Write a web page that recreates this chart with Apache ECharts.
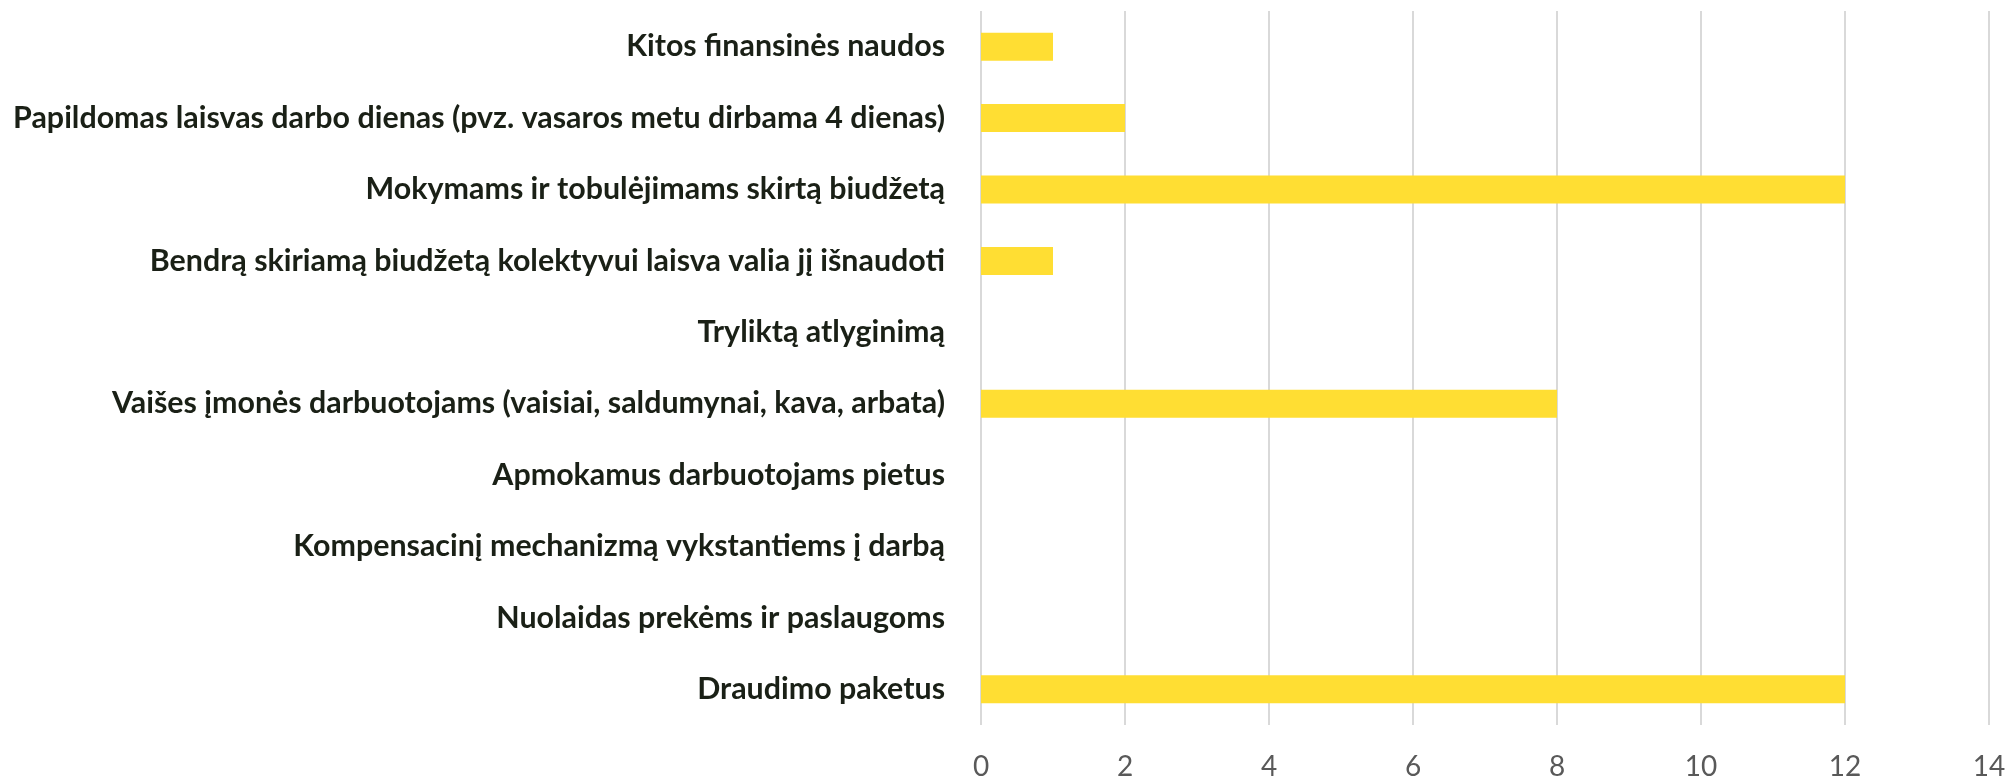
<!DOCTYPE html>
<html>
<head>
<meta charset="utf-8">
<script src="https://cdn.jsdelivr.net/npm/echarts@6/dist/echarts.min.js"></script>
<style>
  html, body { margin: 0; padding: 0; background: #fff; }
  #chart { width: 2010px; height: 779px; }
</style>
</head>
<body>
<div id="chart"></div>
<script>
// kategorijos iš viršaus į apačią
const categories = [
  'Kitos finansinės naudos',
  'Papildomas laisvas darbo dienas (pvz. vasaros metu dirbama 4 dienas)',
  'Mokymams ir tobulėjimams skirtą biudžetą',
  'Bendrą skiriamą biudžetą kolektyvui laisva valia jį išnaudoti',
  'Tryliktą atlyginimą',
  'Vaišes įmonės darbuotojams (vaisiai, saldumynai, kava, arbata)',
  'Apmokamus darbuotojams pietus',
  'Kompensacinį mechanizmą vykstantiems į darbą',
  'Nuolaidas prekėms ir paslaugoms',
  'Draudimo paketus'
];
const values = [1, 2, 12, 1, 0, 8, 0, 0, 0, 12];
const xTicks = [0, 2, 4, 6, 8, 10, 12, 14];

const chart = echarts.init(document.getElementById('chart'));

chart.setOption({
  animation: false,
  grid: { left: 981, right: 21, top: 11, bottom: 54, outerBoundsMode: 'none', containLabel: false },
  xAxis: {
    type: 'value',
    min: xTicks[0],
    max: xTicks[xTicks.length - 1],
    interval: 2,
    axisLine: { show: false },
    axisTick: { show: false },
    splitLine: { lineStyle: { color: '#d9d9d9', width: 2 } },
    axisLabel: {
      margin: 28,
      color: '#595959',
      fontFamily: 'Lato',
      fontSize: 28
    }
  },
  yAxis: {
    type: 'category',
    inverse: true,
    data: categories,
    axisLine: { show: false },
    axisTick: { show: false },
    axisLabel: {
      margin: 36,
      color: '#1a2016',
      fontFamily: 'Lato',
      fontWeight: 'bold',
      fontSize: 30.4
    }
  },
  series: [{
    type: 'bar',
    data: values,
    barWidth: 28,
    itemStyle: { color: '#ffde33' }
  }]
});
</script>
</body>
</html>
